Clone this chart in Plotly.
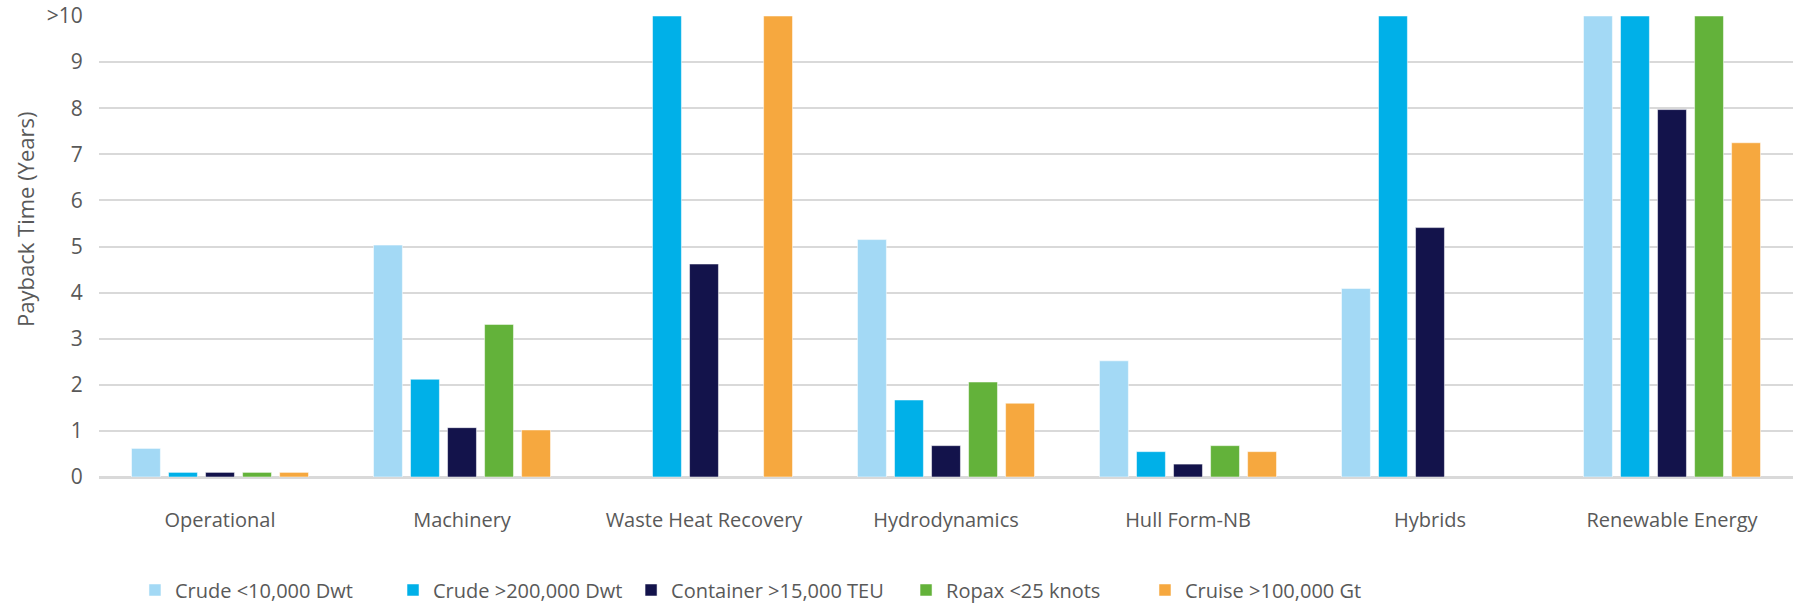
import plotly.graph_objects as go

categories = ["Operational", "Machinery", "Waste Heat Recovery", "Hydrodynamics",
              "Hull Form-NB", "Hybrids", "Renewable Energy"]

series_names = ["Crude <10,000 Dwt", "Crude >200,000 Dwt", "Container >15,000 TEU",
                "Ropax <25 knots", "Cruise >100,000 Gt"]

crude_small = [0.62, 5.03, None, 5.15, 2.52, 4.09, 10]
crude_large = [0.1, 2.12, 10, 1.67, 0.55, 10, 10]
container = [0.1, 1.07, 4.62, 0.68, 0.28, 5.41, 7.97]
ropax = [0.1, 3.31, None, 2.06, 0.68, None, 10]
cruise = [0.1, 1.02, 10, 1.6, 0.55, None, 7.25]

colors = ["#A3D9F5", "#00B0E8", "#13134B", "#63B23A", "#F6A83F"]

y_tickvals = [0, 1, 2, 3, 4, 5, 6, 7, 8, 9, 10]
y_ticktext = ["0", "1", "2", "3", "4", "5", "6", "7", "8", "9", ">10"]

# legend placement (container x of each legend box)
legend_x = [0.0749, 0.2181, 0.3502, 0.5028, 0.6354]
legend_ids = ["legend", "legend2", "legend3", "legend4", "legend5"]

fig = go.Figure()
for name, vals, col, lid in zip(series_names,
                                [crude_small, crude_large, container, ropax, cruise],
                                colors, legend_ids):
    fig.add_trace(go.Bar(
        x=list(range(len(categories))), y=vals, name=name, legend=lid,
        marker=dict(color=col, line=dict(color="rgba(255,255,255,0.5)", width=1)),
    ))

font_family = "Open Sans, Noto Sans, sans-serif"
legend_common = dict(orientation="h", xref="container", yref="container",
                     y=0.0232, xanchor="left", yanchor="middle",
                     font=dict(size=20, color="#595959"), bgcolor="rgba(0,0,0,0)",
                     borderwidth=0)
layout_legends = {}
for lid, lx in zip(legend_ids, legend_x):
    layout_legends[lid] = dict(x=lx, **legend_common)

fig.update_layout(
    width=1802, height=604,
    margin=dict(l=99, r=9, t=16, b=127, autoexpand=False),
    paper_bgcolor="white", plot_bgcolor="white",
    barmode="group", bargap=0.235, bargroupgap=0.22,
    font=dict(family=font_family, color="#595959", size=20),
    showlegend=True,
    **layout_legends,
)
fig.add_annotation(
    text="Payback Time (Years)", textangle=-90,
    xref="paper", yref="paper", x=-0.0437, y=0.5597,
    xanchor="center", yanchor="middle", showarrow=False,
    font=dict(size=22, color="#595959"),
)
fig.update_xaxes(
    tickmode="array", tickvals=list(range(len(categories))), ticktext=categories,
    range=[-0.5, 6.5], showgrid=False, zeroline=False, showline=False,
    ticks="outside", ticklen=25, tickcolor="rgba(0,0,0,0)", automargin=False,
    tickfont=dict(size=20, color="#595959"),
)
fig.update_yaxes(
    range=[0, 10], tickvals=y_tickvals, ticktext=y_ticktext,
    showgrid=True, gridcolor="#D9D9D9", gridwidth=2,
    zeroline=True, zerolinecolor="#D9D9D9", zerolinewidth=2.5,
    tickfont=dict(size=21, color="#595959"), automargin=False,
    ticks="outside", ticklen=11, tickcolor="rgba(0,0,0,0)",
)
fig.write_html("out.html")
